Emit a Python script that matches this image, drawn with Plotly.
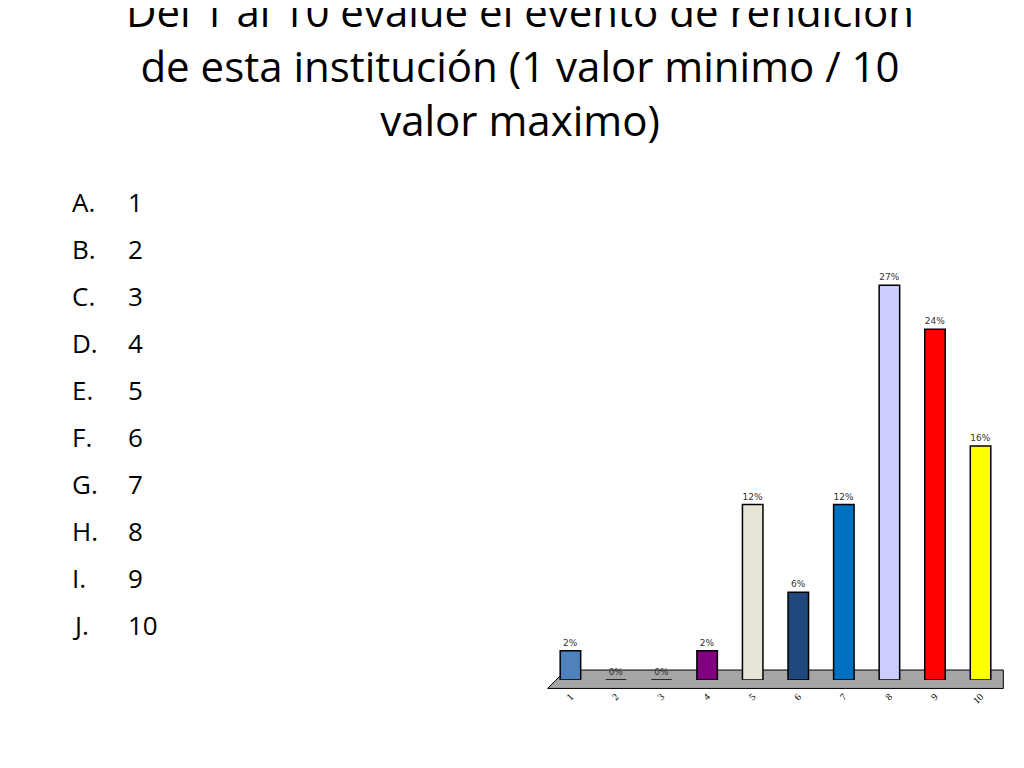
import plotly.graph_objects as go

categories = ["1","2","3","4","5","6","7","8","9","10"]
values = [2, 0, 0, 2, 12, 6, 12, 27, 24, 16]
labels = ["2%","0%","0%","2%","12%","6%","12%","27%","24%","16%"]
colors = ["#4F81BD","#C0504D","#0000A0","#800080","#E8E4D8","#1F497D","#0070C0","#CCCCFF","#FF0000","#FFFF00"]
options = ["A.","B.","C.","D.","E.","F.","G.","H.","I.","J."]
option_vals = ["1","2","3","4","5","6","7","8","9","10"]

fig = go.Figure()
fig.add_trace(go.Bar(x=categories, y=values, marker=dict(color=colors, line=dict(color="black", width=1.5)),
                     text=labels, textposition="outside", cliponaxis=False,
                     textfont=dict(size=9, family="DejaVu Sans", color="#333")))

# floor
fig.add_shape(type="path", xref="paper", yref="paper",
              path="M 0.527 0.114 L 0.972 0.114 L 0.972 0.138 L 0.545 0.138 Z",
              fillcolor="#A6A6A6", line=dict(color="black", width=1), layer="below")

fig.update_layout(
    width=1024, height=768, margin=dict(l=0, r=0, t=0, b=0),
    paper_bgcolor="white", plot_bgcolor="white", showlegend=False, bargap=0.55,
    title=dict(text="Del 1 al 10 evalúe el evento de rendición<br>de esta institución (1 valor minimo / 10<br>valor maximo)",
               x=0.5, xanchor="center", y=0.975, yanchor="top",
               font=dict(family="Open Sans", size=42, color="black")),
    xaxis=dict(domain=[0.527, 0.972], range=[-0.5, 9.5], tickangle=-45, showline=False,
               tickfont=dict(size=10, family="DejaVu Sans Bold", color="black"), ticks="",
               ticklabelstandoff=8),
    yaxis=dict(domain=[0.125, 0.696], range=[0, 30], visible=False),
)

for i, (o, v) in enumerate(zip(options, option_vals)):
    y = 1 - (194 + i * 47.0) / 768
    fig.add_annotation(text=o, x=62/1024, y=y, xref="paper", yref="paper", xanchor="left", yanchor="middle",
                       showarrow=False, font=dict(family="Open Sans", size=26, color="black"))
    fig.add_annotation(text=v, x=118/1024, y=y, xref="paper", yref="paper", xanchor="left", yanchor="middle",
                       showarrow=False, font=dict(family="Open Sans", size=26, color="black"))

fig.write_html("out.html")
